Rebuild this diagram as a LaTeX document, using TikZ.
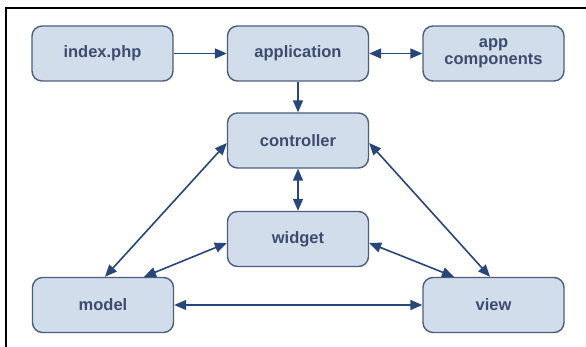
\documentclass[tikz,border=0pt]{standalone}
\usepackage{fontspec}
\setmainfont{Liberation Sans}
\usetikzlibrary{arrows.meta}
\definecolor{boxfill}{HTML}{D2DDEC}
\definecolor{boxdraw}{HTML}{4C5E7E}
\definecolor{txtcol}{HTML}{3D4C6E}
\definecolor{arrcol}{HTML}{27477C}
\tikzset{
  blk/.style={draw=boxdraw, fill=boxfill, line width=1.4pt, rounded corners=10pt,
    minimum width=141pt, minimum height=55pt, inner sep=0pt, align=center,
    text=txtcol, font=\fontsize{16.5}{16.5}\selectfont\bfseries},
  conn/.style={draw=arrcol, line width=1.6pt, -{Triangle[length=12pt,width=10pt]}},
  bconn/.style={draw=arrcol, line width=1.6pt, {Triangle[length=12pt,width=10pt]}-{Triangle[length=12pt,width=10pt]}},
  frameline/.style={draw=black, line width=2pt}
}
\begin{document}
\begin{tikzpicture}[x=1pt,y=-1pt]
\useasboundingbox (0,0) rectangle (586,347);
\fill[white] (0,0) rectangle (586,347);
\draw[frameline] (6,347) -- (6,8) -- (586,8);
\node[blk] (index) at (102.5,53.5) {index.php};
\node[blk] (app) at (298,53.5) {application};
\node[blk] (comp) at (493.5,53.5) {app\\components};
\node[blk] (ctrl) at (298,140.5) {controller};
\node[blk] (widget) at (298,239) {widget};
\node[blk] (model) at (103,305) {model};
\node[blk] (view) at (493.5,305) {view};
\coordinate (m1) at (105,277);
\coordinate (m2) at (144,277);
\coordinate (v1) at (454,277);
\coordinate (v2) at (490,277);
\draw[conn] (index.east) -- (app.west);
\draw[bconn] (app.east) -- (comp.west);
\draw[conn] (app.south) -- (ctrl.north);
\draw[bconn] (ctrl.south) -- (widget.north);
\draw[bconn] (ctrl.west |- 0,143) -- (model.north -| m1);
\draw[bconn] (ctrl.east |- 0,143) -- (view.north -| v2);
\draw[bconn] (widget.west |- 0,243) -- (model.north -| m2);
\draw[bconn] (widget.east |- 0,243) -- (view.north -| v1);
\draw[bconn] (model.east) -- (view.west);
\end{tikzpicture}
\end{document}
